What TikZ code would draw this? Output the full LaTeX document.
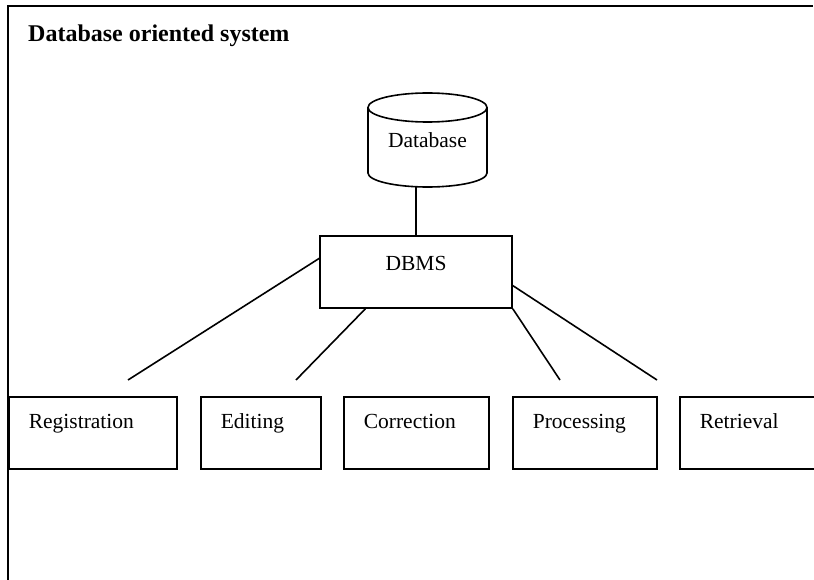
\documentclass[tikz,border=0pt]{standalone}
\usepackage{fontspec}
\setmainfont{Liberation Serif}
\begin{document}
\begin{tikzpicture}[x=1pt,y=-1pt,
  every node/.style={font=\fontsize{21.5}{25}\selectfont},
  ln/.style={line width=1.6pt},
  frame/.style={line width=2.2pt},
  modbox/.style={draw, line width=1.6pt, anchor=north west, inner ysep=0pt, inner xsep=20pt,
    align=left, text height=32pt, text depth=40pt},
]
\useasboundingbox (0,0) rectangle (814,580);
\clip (0,0) rectangle (814,580);
% outer frame
\draw[frame] (8,581) -- (8,6) -- (813,6);
% title
\node[anchor=base west, inner sep=0pt, font=\fontsize{24}{28}\selectfont\bfseries] (title) at (28,42) {Database oriented system};
% database cylinder
\node[minimum width=119pt, minimum height=94pt, inner sep=0pt] (db) at (427.5,140) {};
\draw[ln] (427.5,107.5) ellipse [x radius=59.5, y radius=14.5];
\draw[ln] (368,107.5) -- (368,173) arc [start angle=180, end angle=0, x radius=59.5, y radius=14]
  -- (487,107.5);
\node[anchor=base, inner sep=0pt] (dblabel) at (427.5,148) {Database};
% DBMS
\node[draw, ln, minimum width=192pt, minimum height=72pt, inner sep=0pt] (dbms) at (416,272) {};
\node[anchor=base, inner sep=0pt] (dbmslabel) at (416,270) {DBMS};
\draw[ln] (dbms.north) -- (dbms.north |- db.south);
% modules
\node[modbox, text width=128pt] (reg) at (8,396) {Registration};
\node[modbox, text width=80pt] (edit) at (200,396) {Editing};
\node[modbox, text width=105pt] (corr) at (343,396) {Correction};
\node[modbox, text width=104pt] (proc) at (512,396) {Processing};
\node[modbox, text width=120pt] (retr) at (679,396) {Retrieval};
% free ends
\coordinate (e1) at (128,380);
\coordinate (e2) at (296,380);
\coordinate (e3) at (560,380);
\coordinate (e4) at (657,380);
\draw[ln] (dbms.172) -- (e1);
\draw[ln] (dbms.216) -- (e2);
\draw[ln] (dbms.south east) -- (e3);
\draw[ln] (dbms.352) -- (e4);
\end{tikzpicture}
\end{document}
